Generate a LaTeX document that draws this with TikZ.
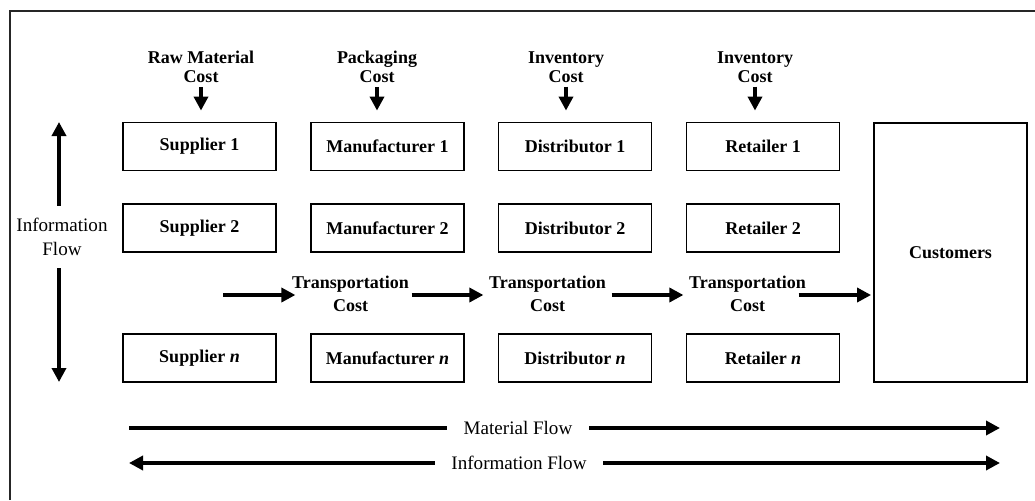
\documentclass[tikz,border=0pt]{standalone}
\usepackage{fontspec}
\setmainfont{Liberation Serif}
\usetikzlibrary{arrows.meta}
\begin{document}
\begin{tikzpicture}[x=0.75pt,y=-0.75pt,
  box/.style={draw,line width=1.4pt,minimum width=114.75pt,minimum height=36pt,inner sep=0pt,font=\fontsize{13.5}{16}\selectfont\bfseries},
  costlbl/.style={align=center,inner sep=0pt,font=\fontsize{13.5}{14}\selectfont\bfseries},
  translbl/.style={align=center,inner sep=0pt,font=\fontsize{13.5}{17.5}\selectfont\bfseries},
  flowlbl/.style={align=center,inner sep=0pt,font=\fontsize{14.3}{18}\selectfont},
  arr/.style={line width=2.6pt,-{Triangle[length=10.5pt,width=10.5pt]}},
  plain/.style={line width=2.6pt},
  frame/.style={line width=1.4pt,draw=black!85}
]
\useasboundingbox (0,0) rectangle (1035,500);
% outer frame (cropped at right and bottom)
\draw[frame] (10,500) -- (10,11) -- (1035,11);

% boxes
\node[box] (s1) at (199.5,146.5) {Supplier 1};
\node[box] (s2) at (199.5,228) {Supplier 2};
\node[box] (sn) at (199.5,358) {Supplier \textit{n}};
\node[box] (m1) at (387.5,146.5) {Manufacturer 1};
\node[box] (m2) at (387.5,228) {Manufacturer 2};
\node[box] (mn) at (387.5,358) {Manufacturer \textit{n}};
\node[box] (d1) at (575,146.5) {Distributor 1};
\node[box] (d2) at (575,228) {Distributor 2};
\node[box] (dn) at (575,358) {Distributor \textit{n}};
\node[box] (r1) at (763,146.5) {Retailer 1};
\node[box] (r2) at (763,228) {Retailer 2};
\node[box] (rn) at (763,358) {Retailer \textit{n}};
\node[box,minimum height=194.25pt] (cu) at (950.5,252.5) {Customers};

% cost labels on top
\node[costlbl] (c1) at (201,67) {Raw Material\\Cost};
\node[costlbl] (c2) at (377,67) {Packaging\\Cost};
\node[costlbl] (c3) at (566,67) {Inventory\\Cost};
\node[costlbl] (c4) at (755,67) {Inventory\\Cost};
\path (c1.south |- s1.north) coordinate (c1t)
      (c2.south |- m1.north) coordinate (c2t)
      (c3.south |- d1.north) coordinate (c3t)
      (c4.south |- r1.north) coordinate (c4t);
\draw[arr] ([shift={(0,4)}]c1.south) -- ([shift={(0,-11)}]c1t);
\draw[arr] ([shift={(0,4)}]c2.south) -- ([shift={(0,-11)}]c2t);
\draw[arr] ([shift={(0,4)}]c3.south) -- ([shift={(0,-11)}]c3t);
\draw[arr] ([shift={(0,4)}]c4.south) -- ([shift={(0,-11)}]c4t);

% transportation costs
\node[translbl] (t1) at (350.5,294) {Transportation\\Cost};
\node[translbl] (t2) at (547.5,294) {Transportation\\Cost};
\node[translbl] (t3) at (747.5,294) {Transportation\\Cost};
\coordinate (t0) at (223,295);
\draw[arr] (t0) -- ([shift={(3.5,1)}]t1.west);
\draw[arr] ([shift={(2.5,1)}]t1.east) -- ([shift={(-5.5,1)}]t2.west);
\draw[arr] ([shift={(5.5,1)}]t2.east) -- ([shift={(-5.5,1)}]t3.west);
\draw[arr] ([shift={(-7.5,1)}]t3.east) -- ([shift={(-2,1)}]cu.west |- t3.east);

% left information flow
\node[flowlbl,minimum height=46.5pt] (li) at (62,237) {Information\\Flow};
\coordinate (lt) at (59,122);
\coordinate (lb) at (59,382);
\draw[arr] (li.north -| lt) -- (lt);
\draw[arr] (li.south -| lb) -- (lb);

% bottom flows
\node[flowlbl,minimum width=106.5pt] (mf) at (518,428) {Material Flow};
\node[flowlbl,minimum width=126pt] (if) at (519,463) {Information Flow};
\coordinate (ms) at (129,428);
\coordinate (me) at (1000,428);
\coordinate (is) at (129,463);
\coordinate (ie) at (1000,463);
\draw[plain] (ms) -- (mf.west);
\draw[arr] (mf.east) -- (me);
\draw[arr] (if.west) -- (is);
\draw[arr] (if.east) -- (ie);
\end{tikzpicture}
\end{document}
